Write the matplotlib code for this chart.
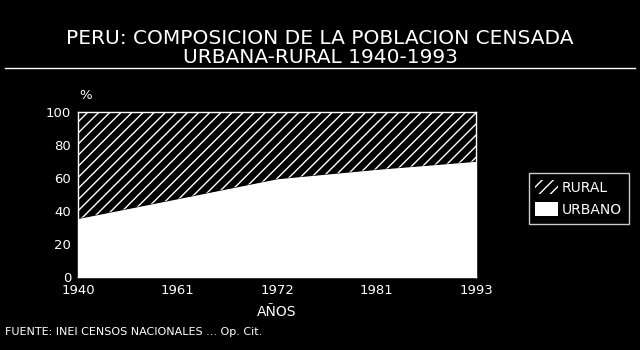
import matplotlib.pyplot as plt
import numpy as np

plt.rcParams['hatch.color'] = 'white'
plt.rcParams['hatch.linewidth'] = 1.0

anios = ['1940', '1961', '1972', '1981', '1993']
urbano = [35.4, 47.4, 59.5, 65.2, 70.1]
rural = [100 - u for u in urbano]

fig = plt.figure(figsize=(6.4, 3.5), dpi=100, facecolor='black')
ax = fig.add_axes([0.122, 0.209, 0.622, 0.471], facecolor='black')

x = np.arange(len(anios))
ax.fill_between(x, 0, urbano, facecolor='white', edgecolor='white', lw=0,
                label='URBANO')
ax.fill_between(x, urbano, 100, facecolor='black', edgecolor='white',
                hatch='///', lw=0, label='RURAL')

ax.set_xlim(0, len(anios) - 1)
ax.set_ylim(0, 100)
ax.set_xticks(x)
ax.set_xticklabels(anios)
ax.set_yticks(range(0, 101, 20))
ax.tick_params(colors='white', length=0, labelsize=9.5)
ax.tick_params(axis='x', pad=5)
ax.tick_params(axis='y', pad=5)
for lbl in ax.get_xticklabels() + ax.get_yticklabels():
    lbl.set_color('white')
for s in ax.spines.values():
    s.set_color('white')
    s.set_linewidth(1)

ax.text(0.02, 1.06, '%', transform=ax.transAxes, color='white', fontsize=9.5,
        ha='center', va='bottom')
ax.set_xlabel('AÑOS', color='white', fontsize=10, labelpad=6)

fig.text(0.5, 0.89, 'PERU: COMPOSICION DE LA POBLACION CENSADA',
         color='white', fontsize=14.5, ha='center', va='center')
fig.text(0.5, 0.837, 'URBANA-RURAL 1940-1993',
         color='white', fontsize=14.5, ha='center', va='center')
fig.add_artist(plt.Line2D([0.008, 0.992], [0.805, 0.805], color='white',
                          lw=1, transform=fig.transFigure))
fig.text(0.008, 0.052, 'FUENTE: INEI CENSOS NACIONALES ... Op. Cit.',
         color='white', fontsize=8, ha='left', va='center')

handles, labels = ax.get_legend_handles_labels()
leg = fig.legend(handles[::-1], labels[::-1], loc='center left',
                 bbox_to_anchor=(0.815, 0.433), frameon=True, fontsize=10,
                 labelcolor='white', facecolor='black', edgecolor='white',
                 fancybox=False, handlelength=1.6, handleheight=1.2,
                 borderpad=0.5, labelspacing=0.5, handletextpad=0.3)
leg.get_frame().set_linewidth(1)

fig.savefig('out.png', dpi=100, facecolor='black')
